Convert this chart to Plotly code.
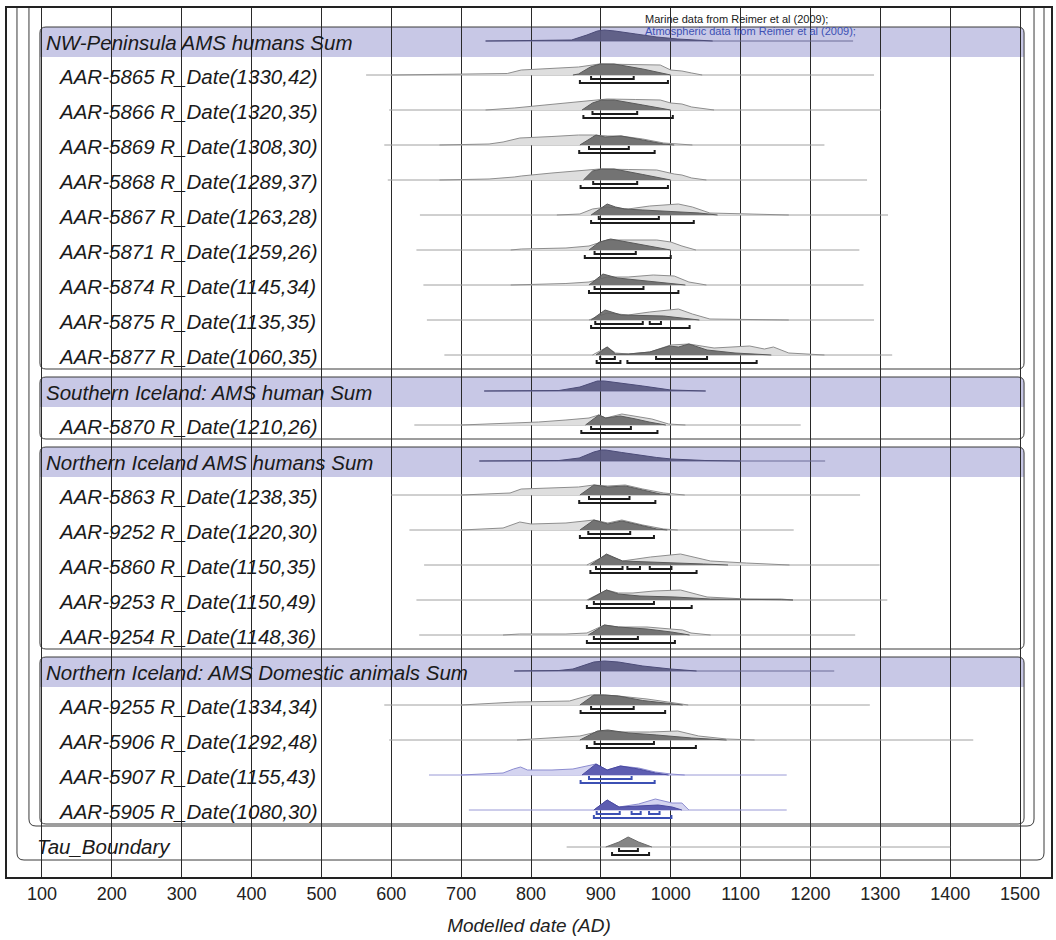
import plotly.graph_objects as go

# ---------------- DATA ----------------
TICK_YEARS = list(range(100, 1501, 100))
AXIS_TITLE = "Modelled date (AD)"
NOTE_MARINE = "Marine data from Reimer et al (2009);"
NOTE_ATMOS = "Atmospheric data from Reimer et al (2009);"

GROUP_TITLES = ["NW-Peninsula AMS humans Sum",
                "Southern Iceland: AMS human Sum",
                "Northern Iceland AMS humans Sum",
                "Northern Iceland: AMS Domestic animals Sum"]

# group header (summed) distributions: (year, height)
HDR_NW = [(735, 0), (840, 0.3), (858, 1), (880, 6), (895, 10), (905, 11), (920, 10), (950, 7), (980, 4), (1010, 2), (1040, 0.5), (1060, 0)]
HDR_NW_SPAN = (735, 1261)
HDR_S = [(733, 0), (840, 0.5), (870, 4), (895, 10), (905, 10), (930, 8), (960, 5), (1000, 1), (1050, 0)]
HDR_S_SPAN = (733, 1050)
HDR_NH = [(726, 0), (840, 0.5), (869, 3), (890, 9), (901, 11), (907, 11), (930, 8.5), (954, 6), (980, 3.5), (1001, 2), (1049, 0.5), (1100, 0)]
HDR_NH_SPAN = (726, 1221)
HDR_NA = [(776, 0), (840, 0.5), (860, 2), (890, 9), (905, 10), (925, 9), (960, 5), (1000, 2), (1037, 0)]
HDR_NA_SPAN = (776, 1234)

# individual dates
LAB_5865 = "AAR-5865 R_Date(1330,42)"
LIKE_5865 = [(600, 0), (669, 0.5), (766, 1.5), (786, 5), (830, 7), (868, 8), (898, 11), (940, 10.5), (985, 10), (1000, 5), (1016, 4), (1030, 2), (1045, 0)]
POST_5865 = [(860, 0), (868, 1), (885, 8), (899, 11), (919, 11), (960, 6), (1000, 0)]
R68_5865 = [(886, 947)]
R95_5865 = [(870, 996)]
SPAN_5865 = (564, 1291)

LAB_5866 = "AAR-5866 R_Date(1320,35)"
LIKE_5866 = [(735, 0), (776, 2), (820, 5), (868, 8), (909, 11), (950, 10.5), (985, 10), (1000, 7), (1016, 6), (1030, 3), (1062, 0)]
POST_5866 = [(873, 0), (888, 7), (901, 10), (919, 10), (960, 5), (1000, 0)]
R68_5866 = [(888, 952)]
R95_5866 = [(875, 1003)]
SPAN_5866 = (597, 1301)

LAB_5869 = "AAR-5869 R_Date(1308,30)"
LIKE_5869 = [(669, 0), (740, 1), (760, 3), (784, 7), (830, 8.5), (868, 10), (888, 10), (910, 9), (929, 9), (960, 6), (990, 2), (1031, 0)]
POST_5869 = [(870, 0), (893, 10), (906, 8), (929, 9), (960, 5), (990, 1), (1005, 0)]
R68_5869 = [(883, 940)]
R95_5869 = [(869, 977)]
SPAN_5869 = (590, 1220)

LAB_5868 = "AAR-5868 R_Date(1289,37)"
LIKE_5868 = [(669, 0), (740, 1), (776, 3), (786, 4), (830, 7), (868, 9), (898, 11), (940, 10.5), (980, 10), (1005, 6), (1016, 5), (1030, 2), (1051, 0)]
POST_5868 = [(875, 0), (888, 9), (901, 11), (919, 11), (960, 5.5), (1000, 0)]
R68_5868 = [(889, 952)]
R95_5868 = [(871, 996)]
SPAN_5868 = (595, 1281)

LAB_5867 = "AAR-5867 R_Date(1263,28)"
LIKE_5867 = [(837, 0), (870, 1), (888, 6), (909, 8), (939, 6), (970, 9), (1011, 11), (1031, 8), (1056, 2), (1100, 1), (1169, 0)]
POST_5867 = [(886, 0), (898, 6), (909, 11), (921, 8), (934, 6), (960, 5), (990, 4), (1041, 2), (1067, 0)]
R68_5867 = [(897, 983)]
R95_5867 = [(886, 1033)]
SPAN_5867 = (641, 1311)

LAB_5871 = "AAR-5871 R_Date(1259,26)"
LIKE_5871 = [(771, 0), (786, 1), (850, 2), (883, 4), (909, 10), (939, 10), (980, 10), (1000, 8), (1016, 4), (1036, 0)]
POST_5871 = [(883, 0), (898, 8), (914, 11), (940, 7.5), (970, 4), (1000, 0)]
R68_5871 = [(891, 950)]
R95_5871 = [(877, 1000)]
SPAN_5871 = (636, 1270)

LAB_5874 = "AAR-5874 R_Date(1145,34)"
LIKE_5874 = [(771, 0), (850, 1.5), (883, 3), (909, 8), (939, 8), (975, 10), (1005, 9), (1026, 3), (1051, 0)]
POST_5874 = [(883, 0), (903, 11), (924, 7), (950, 5), (980, 3), (1021, 0)]
R68_5874 = [(891, 961)]
R95_5874 = [(883, 1011)]
SPAN_5874 = (646, 1276)

LAB_5875 = "AAR-5875 R_Date(1135,35)"
LIKE_5875 = [(883, 0), (909, 7), (939, 5), (970, 8), (1011, 11), (1031, 6), (1056, 1), (1100, 0.5), (1169, 0)]
POST_5875 = [(886, 0), (906, 10), (929, 5), (960, 4.5), (990, 4), (1041, 0)]
R68_5875 = [(892, 960), (970, 986)]
R95_5875 = [(886, 1027)]
SPAN_5875 = (651, 1291)

LAB_5877 = "AAR-5877 R_Date(1060,35)"
LIKE_5877 = [(888, 0), (909, 8), (921, 2), (939, 1), (970, 3), (1000, 10), (1026, 11), (1062, 7), (1113, 9), (1134, 6), (1147, 8), (1169, 2), (1220, 0)]
POST_5877 = [(893, 0), (909, 8), (921, 1), (940, 1), (970, 3), (998, 9), (1011, 8), (1026, 11), (1052, 5), (1092, 2), (1144, 0)]
R68_5877 = [(899, 920), (979, 1052)]
R95_5877 = [(894, 928), (938, 1123)]
SPAN_5877 = (676, 1317)

LAB_5870 = "AAR-5870 R_Date(1210,26)"
LIKE_5870 = [(700, 0), (780, 2), (811, 3), (850, 5), (883, 7), (897, 10), (907, 7), (930, 11), (950, 9), (973, 6), (997, 1), (1021, 0)]
POST_5870 = [(878, 0), (897, 10), (907, 7), (928, 9), (950, 6), (969, 3), (993, 0)]
R68_5870 = [(886, 943)]
R95_5870 = [(872, 981)]
SPAN_5870 = (633, 1186)

LAB_5863 = "AAR-5863 R_Date(1238,35)"
LIKE_5863 = [(700, 0), (770, 2), (786, 6), (820, 7), (868, 8), (890, 10), (910, 9), (935, 10), (960, 6), (990, 2), (1020, 0)]
POST_5863 = [(870, 0), (890, 10), (910, 8), (935, 9), (960, 5), (985, 1), (1000, 0)]
R68_5863 = [(883, 941)]
R95_5863 = [(869, 978)]
SPAN_5863 = (600, 1271)

LAB_9252 = "AAR-9252 R_Date(1220,30)"
LIKE_9252 = [(700, 0), (760, 2), (784, 8), (800, 6), (850, 7), (880, 9), (890, 10), (910, 7), (930, 10), (960, 5), (990, 1), (1010, 0)]
POST_9252 = [(870, 0), (890, 10), (910, 6), (930, 9), (955, 5), (980, 1), (995, 0)]
R68_9252 = [(882, 942)]
R95_9252 = [(870, 976)]
SPAN_9252 = (626, 1176)

LAB_5860 = "AAR-5860 R_Date(1150,35)"
LIKE_5860 = [(880, 0), (908, 10), (931, 4), (971, 8), (1014, 11), (1057, 4), (1108, 2), (1153, 1), (1170, 0)]
POST_5860 = [(885, 0), (908, 11), (931, 4), (981, 3), (1016, 2), (1047, 1), (1082, 0)]
R68_5860 = [(893, 931), (938, 956), (970, 1001)]
R95_5860 = [(885, 1037)]
SPAN_5860 = (647, 1299)

LAB_9253 = "AAR-9253 R_Date(1150,49)"
LIKE_9253 = [(880, 0), (908, 10), (925, 7), (946, 7), (976, 9), (1014, 10), (1052, 3), (1108, 1), (1158, 1), (1175, 0)]
POST_9253 = [(882, 0), (908, 10), (925, 6), (956, 4), (1006, 3), (1057, 1), (1158, 0.3), (1175, 0)]
R68_9253 = [(890, 976)]
R95_9253 = [(880, 1030)]
SPAN_9253 = (636, 1310)

LAB_9254 = "AAR-9254 R_Date(1148,36)"
LIKE_9254 = [(760, 0), (784, 1), (850, 1), (880, 2), (905, 10), (925, 8), (966, 8), (1006, 6), (1017, 5), (1029, 2), (1057, 0)]
POST_9254 = [(882, 0), (905, 10), (925, 8), (966, 6), (1001, 3), (1027, 0)]
R68_9254 = [(890, 953)]
R95_9254 = [(880, 1006)]
SPAN_9254 = (640, 1264)

LAB_9255 = "AAR-9255 R_Date(1334,34)"
LIKE_9255 = [(700, 0), (779, 3), (820, 3.5), (855, 4), (885, 10), (905, 10), (925, 9), (966, 6), (996, 3), (1025, 0)]
POST_9255 = [(870, 0), (890, 10), (905, 10), (925, 9), (960, 4.5), (981, 3), (1017, 0)]
R68_9255 = [(886, 947)]
R95_9255 = [(871, 992)]
SPAN_9255 = (590, 1285)

LAB_5906 = "AAR-5906 R_Date(1292,48)"
LIKE_5906 = [(780, 0), (820, 2), (870, 4), (900, 9), (930, 8), (970, 8), (1010, 9), (1040, 4), (1080, 1), (1120, 0)]
POST_5906 = [(870, 0), (895, 9), (910, 10), (940, 7), (980, 5), (1030, 2), (1080, 0)]
R68_5906 = [(891, 976)]
R95_5906 = [(880, 1036)]
SPAN_5906 = (597, 1433)

LAB_5907 = "AAR-5907 R_Date(1155,43)"
LIKE_5907 = [(700, 0), (760, 2), (775, 6), (785, 8), (795, 5), (830, 5), (860, 6), (893, 11), (909, 5), (928, 9), (954, 7), (978, 3), (1000, 1), (1020, 0)]
POST_5907 = [(873, 0), (893, 11), (909, 5), (928, 9), (954, 6), (978, 2), (997, 0)]
R68_5907 = [(883, 944)]
R95_5907 = [(871, 977)]
SPAN_5907 = (654, 1166)

LAB_5905 = "AAR-5905 R_Date(1080,30)"
LIKE_5905 = [(890, 0), (909, 10), (926, 3), (954, 6), (978, 11), (1002, 7), (1016, 7), (1026, 0)]
POST_5905 = [(890, 0), (909, 10), (926, 3), (954, 4), (982, 5), (1002, 3), (1016, 0)]
R68_5905 = [(894, 927), (944, 957), (969, 984)]
R95_5905 = [(890, 1001)]
SPAN_5905 = (711, 1166)

LAB_TAU = "Tau_Boundary"
POST_TAU = [(907, 0), (926, 5), (939, 10), (954, 5), (973, 0)]
R68_TAU = [(926, 953)]
R95_TAU = [(916, 969)]
SPAN_TAU = (851, 1400)

# ---------------- LAYOUT / STYLE ----------------
W, H = 1056, 940
PXY = 0.7                      # pixels per year
PL, PR, PT, PB = 7, 1053, 8, 877
X0 = 100 - (42 - PL) / PXY     # year at left plot edge
X1 = X0 + (PR - PL) / PXY


def xr(px):
    return X0 + (px - PL) / PXY


FONT = "Liberation Sans, Arial, sans-serif"
LABEL_SIZE = 20.5
BAND = "#c8c8e6"
BOX_LINE = "#3a3a3a"
GRAY = dict(like_fill="#dedede", like_line="#8e8e8e", post_fill="rgba(100,100,100,0.88)",
            post_line="#5a5a5a", bracket="#1c1c1c", span="#a0a0a0")
BLUE = dict(like_fill="#d4d4f0", like_line="#8c8cd0", post_fill="rgba(80,80,170,0.9)",
            post_line="#4a4aa0", bracket="#3c50b4", span="#9a9ad6")
HDR_FILL = "rgba(88,88,128,0.92)"
HDR_SPAN = "#6c6c98"

GROUPS = [
    (GROUP_TITLES[0], HDR_NW, HDR_NW_SPAN, [
        (LAB_5865, LIKE_5865, POST_5865, R68_5865, R95_5865, SPAN_5865, GRAY),
        (LAB_5866, LIKE_5866, POST_5866, R68_5866, R95_5866, SPAN_5866, GRAY),
        (LAB_5869, LIKE_5869, POST_5869, R68_5869, R95_5869, SPAN_5869, GRAY),
        (LAB_5868, LIKE_5868, POST_5868, R68_5868, R95_5868, SPAN_5868, GRAY),
        (LAB_5867, LIKE_5867, POST_5867, R68_5867, R95_5867, SPAN_5867, GRAY),
        (LAB_5871, LIKE_5871, POST_5871, R68_5871, R95_5871, SPAN_5871, GRAY),
        (LAB_5874, LIKE_5874, POST_5874, R68_5874, R95_5874, SPAN_5874, GRAY),
        (LAB_5875, LIKE_5875, POST_5875, R68_5875, R95_5875, SPAN_5875, GRAY),
        (LAB_5877, LIKE_5877, POST_5877, R68_5877, R95_5877, SPAN_5877, GRAY)]),
    (GROUP_TITLES[1], HDR_S, HDR_S_SPAN, [
        (LAB_5870, LIKE_5870, POST_5870, R68_5870, R95_5870, SPAN_5870, GRAY)]),
    (GROUP_TITLES[2], HDR_NH, HDR_NH_SPAN, [
        (LAB_5863, LIKE_5863, POST_5863, R68_5863, R95_5863, SPAN_5863, GRAY),
        (LAB_9252, LIKE_9252, POST_9252, R68_9252, R95_9252, SPAN_9252, GRAY),
        (LAB_5860, LIKE_5860, POST_5860, R68_5860, R95_5860, SPAN_5860, GRAY),
        (LAB_9253, LIKE_9253, POST_9253, R68_9253, R95_9253, SPAN_9253, GRAY),
        (LAB_9254, LIKE_9254, POST_9254, R68_9254, R95_9254, SPAN_9254, GRAY)]),
    (GROUP_TITLES[3], HDR_NA, HDR_NA_SPAN, [
        (LAB_9255, LIKE_9255, POST_9255, R68_9255, R95_9255, SPAN_9255, GRAY),
        (LAB_5906, LIKE_5906, POST_5906, R68_5906, R95_5906, SPAN_5906, GRAY),
        (LAB_5907, LIKE_5907, POST_5907, R68_5907, R95_5907, SPAN_5907, BLUE),
        (LAB_5905, LIKE_5905, POST_5905, R68_5905, R95_5905, SPAN_5905, BLUE)]),
]

fig = go.Figure()
shapes = []
annotations = []


def area(curve, base, fill, line, width=1):
    xs = [p[0] for p in curve]
    ys = [base - p[1] for p in curve]
    fig.add_trace(go.Scatter(x=xs, y=ys, mode="lines", fill="toself", fillcolor=fill,
                             line=dict(color=line, width=width), hoverinfo="skip",
                             showlegend=False))


def span_line(span, base, color, width=1):
    fig.add_trace(go.Scatter(x=list(span), y=[base, base], mode="lines",
                             line=dict(color=color, width=width), hoverinfo="skip",
                             showlegend=False))


def brackets(ranges, y, color):
    xs, ys = [], []
    for a, b in ranges:
        xs += [a, a, b, b, None]
        ys += [y - 3, y, y, y - 3, None]
    fig.add_trace(go.Scatter(x=xs, y=ys, mode="lines", line=dict(color=color, width=2),
                             hoverinfo="skip", showlegend=False))


def rounded_box(l, r, t, b, rad=6, fill=None, line=True, bottom=True):
    rx, ry = rad / PXY, rad
    L, R = xr(l), xr(r)
    p = f"M {L},{b - ry if bottom else b} "
    p += f"L {L},{t + ry} Q {L},{t} {L + rx},{t} L {R - rx},{t} Q {R},{t} {R},{t + ry} "
    if bottom:
        p += f"L {R},{b - ry} Q {R},{b} {R - rx},{b} L {L + rx},{b} Q {L},{b} {L},{b - ry} Z"
    else:
        p += f"L {R},{b} L {L},{b} Z"
    shapes.append(dict(type="path", xref="x", yref="y", path=p, layer="below",
                       fillcolor=fill if fill else "rgba(0,0,0,0)",
                       line=dict(color=BOX_LINE if line else "rgba(0,0,0,0)", width=1)))


def open_box(l, r, b, rad=7):
    rx, ry = rad / PXY, rad
    L, R = xr(l), xr(r)
    p = (f"M {L},{PT} L {L},{b - ry} Q {L},{b} {L + rx},{b} L {R - rx},{b} "
         f"Q {R},{b} {R},{b - ry} L {R},{PT}")
    shapes.append(dict(type="path", xref="x", yref="y", path=p, layer="below",
                       line=dict(color=BOX_LINE, width=1)))


def label(px, y, text):
    annotations.append(dict(x=xr(px), y=y, text=f"<i>{text}</i>", showarrow=False,
                            xanchor="left", yanchor="middle",
                            font=dict(family=FONT, size=LABEL_SIZE, color="#1a1a1a")))


BOX_L, BOX_R = 40, 1026
BAND_H, FIRST, PITCH, TAIL, GAP = 30, 18, 35, 14, 8
top = 27
for title, hdr, hdr_span, rows in GROUPS:
    rounded_box(BOX_L, BOX_R, top, top + BAND_H, fill=BAND, line=False, bottom=False)
    hb = top + 14
    span_line(hdr_span, hb, HDR_SPAN)
    area(hdr, hb, HDR_FILL, "#4c4c78")
    label(44, top + 15, title)
    base = top + BAND_H + FIRST
    for lab, like, post, r68, r95, span, st in rows:
        span_line(span, base, st["span"])
        area(like, base, st["like_fill"], st["like_line"])
        area(post, base, st["post_fill"], st["post_line"])
        brackets(r68, base + 4, st["bracket"])
        brackets(r95, base + 8, st["bracket"])
        label(56, base + 1, lab)
        base += PITCH
    bottom = base - PITCH + TAIL
    rounded_box(BOX_L, BOX_R, top, bottom)
    last_bottom = bottom
    top = bottom + GAP

# middle box (all groups) and outer box (incl. boundary)
open_box(29, 1036, last_bottom + 2)
tau_base = last_bottom + 23
span_line(SPAN_TAU, tau_base, GRAY["span"])
area(POST_TAU, tau_base, "rgba(120,120,120,0.9)", "#6a6a6a")
brackets(R68_TAU, tau_base + 4, GRAY["bracket"])
brackets(R95_TAU, tau_base + 8, GRAY["bracket"])
label(35, tau_base - 1, LAB_TAU)
open_box(17, 1046, tau_base + 13)

# calibration notes
annotations.append(dict(x=xr(644), y=19, text=NOTE_MARINE, showarrow=False, xanchor="left",
                        yanchor="middle", font=dict(family=FONT, size=11, color="#1a1a1a")))
annotations.append(dict(x=xr(644), y=31, text=NOTE_ATMOS, showarrow=False, xanchor="left",
                        yanchor="middle", font=dict(family=FONT, size=11, color="#3c50b4")))

fig.update_layout(
    width=W, height=H, paper_bgcolor="white", plot_bgcolor="white",
    margin=dict(l=PL, r=W - PR, t=PT, b=H - PB, pad=0),
    shapes=shapes, annotations=annotations, showlegend=False,
    xaxis=dict(range=[X0, X1], tickmode="array", tickvals=TICK_YEARS,
               ticktext=[str(t) for t in TICK_YEARS], showgrid=True, gridcolor="#2a2a2a",
               gridwidth=1, zeroline=False, showline=True, linecolor="#222", linewidth=1.5,
               mirror=True, ticks="", ticklabelstandoff=0,
               tickfont=dict(family="Liberation Sans Narrow, " + FONT, size=18, color="#222"),
               title=dict(text=f"<i>{AXIS_TITLE}</i>", standoff=15,
                          font=dict(family=FONT, size=19, color="#222"))),
    yaxis=dict(range=[PB, PT], showgrid=False, zeroline=False, showticklabels=False,
               showline=True, linecolor="#222", linewidth=1.5, mirror=True, ticks=""),
)

fig.write_html("out.html", config={"displayModeBar": False},
               post_script="document.body.style.margin='0';document.body.style.padding='0';")
